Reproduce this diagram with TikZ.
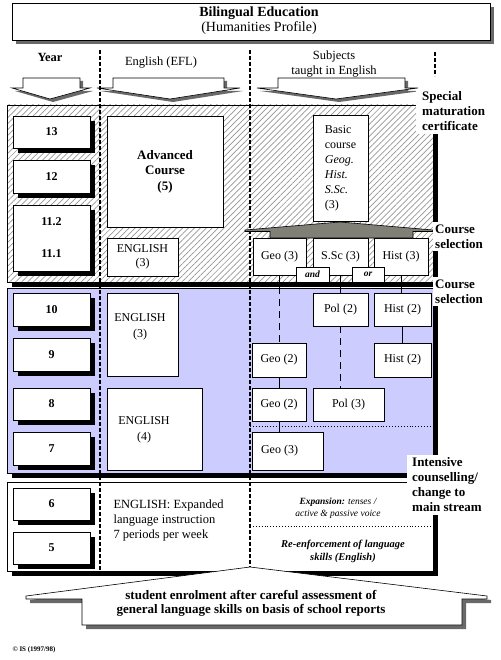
\documentclass[tikz,border=0pt]{standalone}
\usepackage{fontspec}
\setmainfont{Liberation Serif}
\usetikzlibrary{patterns.meta,shadows}
\definecolor{lav}{RGB}{204,204,255}
\definecolor{hatchgray}{RGB}{150,150,150}
\definecolor{shadegray}{RGB}{105,105,105}
\definecolor{trapgray}{RGB}{128,128,118}
\begin{document}
\begin{tikzpicture}[x=1pt,y=-1pt,
  every node/.style={font=\fontsize{12}{15}\selectfont},
  box/.style={draw=black, line width=0.8pt, fill=white, inner sep=0pt},
  gradebox/.style={box, minimum width=77pt, font=\fontsize{12}{15}\selectfont\bfseries,
    drop shadow={shadow xshift=5pt, shadow yshift=-5pt, fill=black, opacity=1}},
  subj/.style={box, align=center},
  lbl/.style={fill=white, align=left, inner ysep=3pt, inner xsep=5pt, anchor=west,
    font=\fontsize{13}{15}\selectfont\bfseries},
  coldash/.style={line width=1.1pt, dash pattern=on 4pt off 2pt},
  conn/.style={line width=0.7pt},
  longdash/.style={conn, dash pattern=on 7pt off 5pt},
  arrowshadow/.style={fill=shadegray},
  arrowbody/.style={fill=white, draw=black, line width=0.6pt},
  smallbox/.style={box, minimum width=32pt, minimum height=15pt, font=\fontsize{9.5}{10}\selectfont\bfseries\itshape},
]
\useasboundingbox (0,0) rectangle (500,660);

% ---- title
\fill[shadegray] (16,7) rectangle (494,44);
\node[box, minimum width=478pt, minimum height=37pt] (title) at (251,21.5) {};
\node[align=center, font=\fontsize{14}{15}\selectfont] (titletext) at (259,20.5) {\textbf{Bilingual Education}\\(Humanities Profile)};

% ---- column headers
\node[font=\fontsize{12.5}{15}\selectfont\bfseries] (hyear) at (50,57) {Year};
\node[font=\fontsize{12.5}{15}\selectfont] (heng) at (161,63) {English (EFL)};
\node[align=center, font=\fontsize{12.5}{15}\selectfont] (hsubj) at (334,64.5) {Subjects\\taught in English};

% ---- header arrows
\fill[arrowshadow, shift={(3,3)}] (23,78) -- (80,78) -- (80,88) -- (90,88) -- (50,99) -- (12,88) -- (23,88) -- cycle;
\filldraw[arrowbody] (23,78) -- (80,78) -- (80,88) -- (90,88) -- (50,99) -- (12,88) -- (23,88) -- cycle;
\fill[arrowshadow, shift={(3,3)}] (113,78) -- (224,78) -- (224,88) -- (240,88) -- (170,99) -- (97,88) -- (113,88) -- cycle;
\filldraw[arrowbody] (113,78) -- (224,78) -- (224,88) -- (240,88) -- (170,99) -- (97,88) -- (113,88) -- cycle;
\fill[arrowshadow, shift={(3,3)}] (278,78) -- (405,78) -- (405,88) -- (418,88) -- (336,99) -- (257,88) -- (278,88) -- cycle;
\filldraw[arrowbody] (278,78) -- (405,78) -- (405,88) -- (418,88) -- (336,99) -- (257,88) -- (278,88) -- cycle;

% ---- regions
\fill[black] (12,110) rectangle (438,287);
\fill[white] (7,105) rectangle (433,282);
\fill[pattern={Lines[angle=45,distance=4.2pt,line width=0.7pt]}, pattern color=hatchgray] (7,105) rectangle (433,282);
\draw[line width=0.8pt] (7,105) rectangle (433,282);
\fill[black] (12,293) rectangle (438,478);
\filldraw[fill=lav, draw=black, line width=0.8pt] (7,288) rectangle (433,473);
\fill[black] (12,487) rectangle (438,576);
\filldraw[fill=white, draw=black, line width=0.8pt] (7,482) rectangle (433,571);

% ---- column separators and dotted lines
\draw[coldash] (100,50) -- (100,571);
\draw[coldash] (250,50) -- (250,567);
\draw[coldash] (435,52) -- (435,76);
\draw[dotted, line width=0.9pt] (250,426) -- (433,426);
\draw[dotted, line width=0.9pt] (250,526) -- (432,526);

% ---- year boxes
\node[gradebox, minimum height=32pt] (y13) at (51.5,132) {13};
\node[gradebox, minimum height=33pt] (y12) at (51.5,176.5) {12};
\node[gradebox, minimum height=66pt, align=center, font=\fontsize{12}{32}\selectfont\bfseries] (y11) at (51.5,238) {11.2\\11.1};
\node[gradebox, minimum height=33pt] (y10) at (51.5,309.5) {10};
\node[gradebox, minimum height=33pt] (y9) at (51.5,354.5) {9};
\node[gradebox, minimum height=32pt] (y8) at (51.5,404) {8};
\node[gradebox, minimum height=33pt] (y7) at (51.5,448.5) {7};
\node[gradebox, minimum height=32pt] (y6) at (51.5,504) {6};
\node[gradebox, minimum height=32pt] (y5) at (51.5,548) {5};

% ---- English column
\node[subj, minimum width=116pt, minimum height=111pt, font=\fontsize{13}{15.5}\selectfont\bfseries] (adv) at (165,171.5) {Advanced\\Course\\(5)};
\node[subj, minimum width=71pt, minimum height=38pt, font=\fontsize{12}{14}\selectfont] (eng3a) at (142.5,257) {ENGLISH\\(3)};
\node[subj, minimum width=71pt, minimum height=83pt] (eng3b) at (142.5,334.5) {};
\node[align=center, font=\fontsize{12}{16}\selectfont] (eng3bt) at (140,326.5) {ENGLISH\\(3)};
\node[subj, minimum width=95pt, minimum height=82pt] (eng4) at (154.5,429) {};
\node[align=center, font=\fontsize{12}{16}\selectfont] (eng4t) at (144,430) {ENGLISH\\(4)};
\node[align=left, anchor=west, font=\fontsize{12.5}{15}\selectfont] (engx) at (110,520) {ENGLISH: Expanded\\language instruction\\7 periods per week};

% ---- subjects column
\node[subj, minimum width=55pt, minimum height=106pt, align=left] (basic) at (340.5,168) {Basic\\course\\\textit{Geog.}\\\textit{Hist.}\\\textit{S.Sc.}\\(3)};
\node[subj, minimum width=53pt, minimum height=37pt] (geoA) at (279.5,256.5) {Geo (3)};
\node[subj, minimum width=55pt, minimum height=37pt] (ssc) at (340.5,256.5) {S.Sc (3)};
\node[subj, minimum width=54pt, minimum height=37pt] (histA) at (401,256.5) {Hist (3)};
\node[subj, minimum width=55pt, minimum height=33pt] (pol2) at (340.5,309.5) {Pol (2)};
\node[subj, minimum width=57pt, minimum height=33pt] (histB) at (402.5,309.5) {Hist (2)};
\node[subj, minimum width=54pt, minimum height=34pt] (geoB) at (279,360) {Geo (2)};
\node[subj, minimum width=57pt, minimum height=34pt] (histC) at (402.5,360) {Hist (2)};
\node[subj, minimum width=54pt, minimum height=33pt] (geoC) at (279,404.5) {Geo (2)};
\node[subj, minimum width=71pt, minimum height=33pt] (pol3) at (348.5,404.5) {Pol (3)};
\node[subj, minimum width=71pt, minimum height=38pt] (geoD) at (287.5,451) {Geo (3)\hspace*{16pt}};

% ---- connectors
\draw[longdash] (geoA.south) -- (geoA.south |- geoB.north);
\draw[conn] (ssc.south) -- (pol2.north);
\draw[conn] (histA.south) -- (histA.south |- histB.north);
\draw[conn] (histB.south) -- (histC.north);
\draw[longdash] (pol2.south) -- (pol2.south |- pol3.north);
\draw[conn] (geoB.south) -- (geoC.north);
\draw[conn] (geoC.south) -- (geoC.south |- geoD.north);

\node[smallbox, minimum width=33pt] (andbox) at (312.5,274.5) {and};
\node[smallbox] (orbox) at (368,274.5) {or};

% ---- course selection bar
\filldraw[fill=trapgray, draw=black, line width=0.6pt] (245,230) -- (340,222) -- (433,230) -- (433,231.5) -- (413,231.5) -- (413,238) -- (270,238) -- (270,231.5) -- (245,231.5) -- cycle;

% ---- lower region texts
\node[align=center, font=\fontsize{9.5}{12}\selectfont\itshape] (expan) at (338,508) {\textbf{Expansion:} tenses /\\active \& passive voice};
\node[align=center, font=\fontsize{10.5}{13}\selectfont\bfseries\itshape] (reenf) at (343,551.5) {Re-enforcement of language\\skills (English)};

% ---- side labels
\node[lbl, inner xsep=6pt] (special) at (416,111.5) {Special\\maturation\\certificate};
\node[lbl, inner xsep=2pt] (cs1) at (433,236.5) {Course\\selection};
\node[lbl, inner xsep=2pt] (cs2) at (433,291.5) {Course\\selection};
\node[lbl] (intens) at (407,485) {Intensive\\counselling/\\change to\\main stream};

% ---- enrolment arrow
\fill[arrowshadow, shift={(4,4)}] (250,567) -- (487,596) -- (487,599) -- (462,599) -- (462,625) -- (82,625) -- (82,599) -- (26,599) -- (26,596) -- cycle;
\filldraw[arrowbody] (250,567) -- (487,596) -- (487,599) -- (462,599) -- (462,625) -- (82,625) -- (82,599) -- (26,599) -- (26,596) -- cycle;
\node[align=center, font=\fontsize{13}{14}\selectfont\bfseries] (enrol) at (251,603) {student enrolment after careful assessment of\\general language skills on basis of school reports};

\node[font=\fontsize{7}{8}\selectfont\bfseries] (copy) at (34,650) {© IS (1997/98)};
\end{tikzpicture}
\end{document}
